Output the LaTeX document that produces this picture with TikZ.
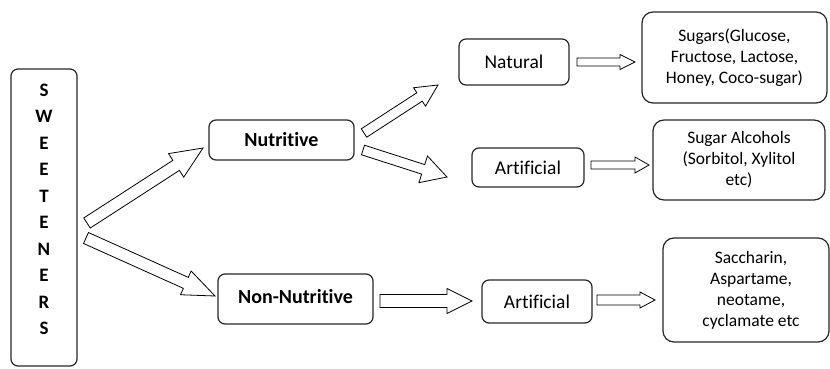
\documentclass[tikz,border=0pt]{standalone}
\usepackage{fontspec}
\setmainfont{Carlito}[Ligatures=NoCommon]
\usetikzlibrary{calc}
\tikzset{
  box/.style={draw=black!85, line width=1.2pt, rounded corners=7pt, inner sep=0pt, align=center, font=\fontsize{19.5}{22}\selectfont},
  bigbox/.style={box, rounded corners=11pt, font=\fontsize{17.5}{21}\selectfont},
  boldtxt/.style={font=\fontsize{20}{22}\selectfont\bfseries},
  barrow/.style={draw=black, line width=0.8pt, fill=white, line join=miter}
}
\newcommand\blockarr[5]{%
  \coordinate (bah) at ($(#2)!#5!(#1)$);
  \draw[barrow] ($(#1)!#3!90:(#2)$) -- ($(bah)!#3!90:(#2)$) -- ($(bah)!#4!90:(#2)$) -- (#2)
    -- ($(bah)!#4!-90:(#2)$) -- ($(bah)!#3!-90:(#2)$) -- ($(#1)!#3!-90:(#2)$) -- cycle;
}
\begin{document}
\begin{tikzpicture}[x=1pt,y=-1pt]
\useasboundingbox (0,0) rectangle (830,369);
% boxes
\node[box, minimum width=66pt, minimum height=297pt] (sw) at (44,217.5) {};
\node[font=\fontsize{19}{26.5}\selectfont\bfseries, align=center, inner sep=0pt] (swt) at (44,209.5)
  {S\\W\\E\\E\\T\\E\\N\\E\\R\\S};
\node[box, boldtxt, minimum width=145pt, minimum height=40pt] (nutr) at (281.5,140) {Nutritive};
\node[box, boldtxt, minimum width=155pt, minimum height=50pt] (nonn) at (295.5,299) {\raisebox{6pt}{Non-Nutritive}};
\node[box, minimum width=110pt, minimum height=46pt] (nat) at (514,62) {Natural};
\node[box, minimum width=112pt, minimum height=39pt] (art1) at (528,167.5) {Artificial};
\node[box, minimum width=110pt, minimum height=43pt] (art2) at (537,301.5) {Artificial};
\node[bigbox, minimum width=185pt, minimum height=91pt] (sug) at (734.5,57.5)
  {Sugars(Glucose,\\Fructose, Lactose,\\Honey, Coco-sugar)};
\node[bigbox, minimum width=172pt, minimum height=80pt] (alc) at (739,160)
  {Sugar Alcohols\\(Sorbitol, Xylitol\\etc)};
\node[bigbox, minimum width=166pt, minimum height=104pt] (sac) at (746,290)
  {\hspace*{10pt}Saccharin,\\\hspace*{10pt}Aspartame,\\\hspace*{10pt}neotame,\\\hspace*{10pt}cyclamate etc};
% arrow end points
\coordinate (t1) at (87,223);   \coordinate (p1) at (203,148);
\coordinate (t2) at (86,238);   \coordinate (p2) at (215,296);
\coordinate (t3) at (364,133);  \coordinate (p3) at (438,85);
\coordinate (t4) at (363,150);  \coordinate (p4) at (447,177);
\coordinate (t5) at (577,62);   \coordinate (p5) at (635,62);
\coordinate (t6) at (591,165);  \coordinate (p6) at (649,165);
\coordinate (t7) at (380,301);  \coordinate (p7) at (472,301);
\coordinate (t8) at (597,300);  \coordinate (p8) at (655,300);
\blockarr{t1}{p1}{6pt}{14pt}{32pt}
\blockarr{t2}{p2}{6pt}{13pt}{32pt}
\blockarr{t3}{p3}{5pt}{11pt}{22pt}
\blockarr{t4}{p4}{5pt}{14pt}{25pt}
\blockarr{t5}{p5}{4pt}{7.5pt}{15pt}
\blockarr{t6}{p6}{4pt}{8pt}{14pt}
\blockarr{t7}{p7}{6.5pt}{12.5pt}{25pt}
\blockarr{t8}{p8}{5pt}{8pt}{15pt}
\end{tikzpicture}
\end{document}
